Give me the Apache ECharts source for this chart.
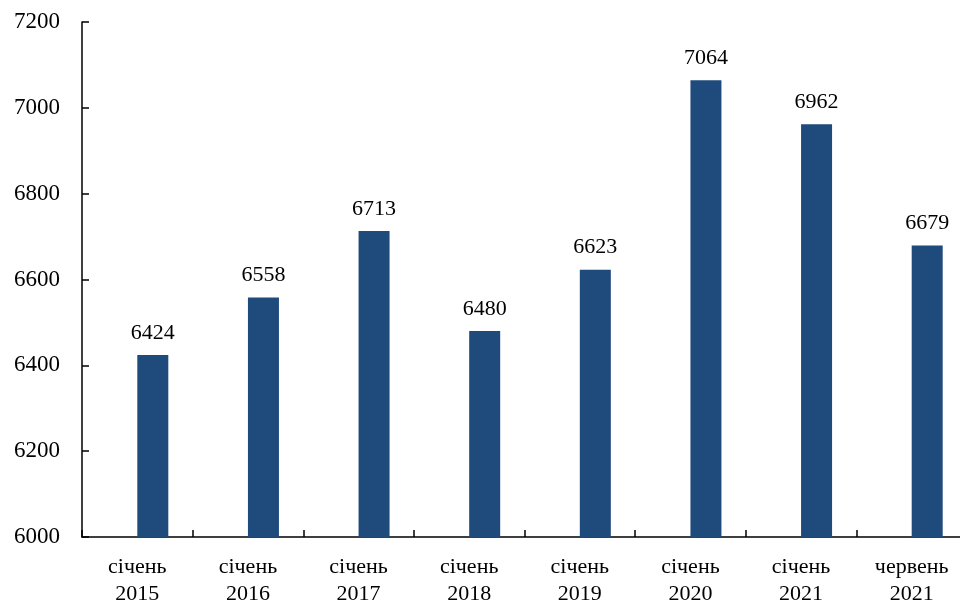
<!DOCTYPE html>
<html>
<head>
<meta charset="utf-8">
<script src="https://cdn.jsdelivr.net/npm/echarts@6/dist/echarts.min.js"></script>
<style>
  html, body { margin: 0; padding: 0; background: #fff; }
  #chart { width: 960px; height: 602px; }
</style>
</head>
<body>
<div id="chart"></div>
<script>
// Categories (month + year) and values
const months = ['січень', 'січень', 'січень', 'січень', 'січень', 'січень', 'січень', 'червень'];
const years = ['2015', '2016', '2017', '2018', '2019', '2020', '2021', '2021'];
const values = [6424, 6558, 6713, 6480, 6623, 7064, 6962, 6679];
const yTicks = { min: 6000, max: 7200, step: 200 };

const categories = months.map((m, i) => m + '\n' + years[i]);
const font = '"Liberation Serif", "Times New Roman", serif';

const chart = echarts.init(document.getElementById('chart'));
chart.setOption({
  animation: false,
  backgroundColor: '#ffffff',
  grid: { left: 82, top: 22, bottom: 65, width: 885, containLabel: false, outerBoundsMode: 'none' },
  xAxis: {
    type: 'category',
    data: categories,
    axisLine: { lineStyle: { color: '#000', width: 1.5 } },
    axisTick: { show: true, inside: true, length: 7, alignWithLabel: false, lineStyle: { color: '#000', width: 1.5 } },
    axisLabel: { fontFamily: font, fontSize: 22, color: '#000', lineHeight: 27, margin: 17 }
  },
  yAxis: {
    type: 'value',
    min: yTicks.min,
    max: yTicks.max,
    interval: yTicks.step,
    splitLine: { show: false },
    axisLine: { show: true, lineStyle: { color: '#000', width: 1.5 } },
    axisTick: { show: true, inside: true, length: 7, lineStyle: { color: '#000', width: 1.5 } },
    axisLabel: { fontFamily: font, fontSize: 23, color: '#000', margin: 22, formatter: v => String(v) }
  },
  series: [
    // empty companion series keeps the visible bars to the right of each category centre
    { type: 'bar', data: [], barWidth: 31, barGap: '0%' },
    {
      type: 'bar',
      data: values,
      barWidth: 31,
      barGap: '0%',
      itemStyle: { color: '#1F4A7C' },
      label: { show: true, position: 'top', distance: 11, fontFamily: font, fontSize: 22, color: '#000' }
    }
  ]
});
</script>
</body>
</html>
